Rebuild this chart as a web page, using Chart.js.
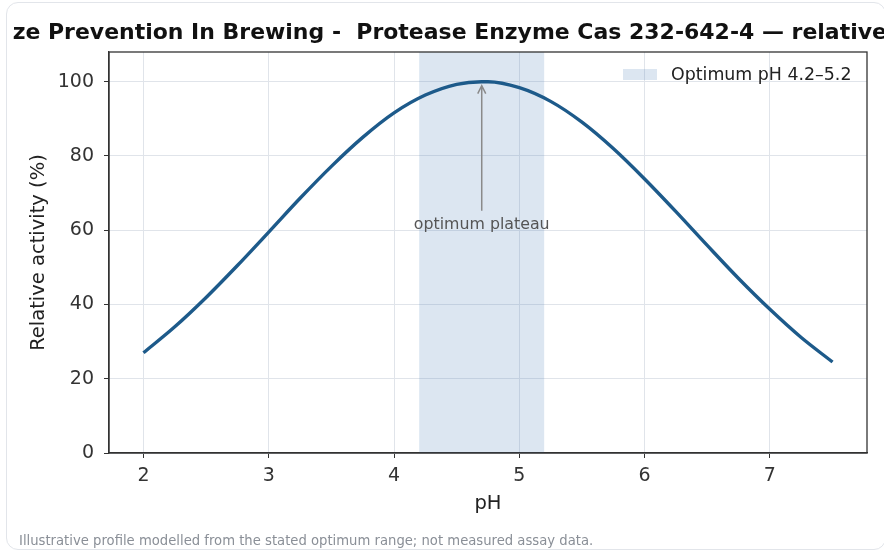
<!DOCTYPE html>
<html>
<head>
<meta charset="utf-8">
<script src="https://cdn.jsdelivr.net/npm/chart.js@4.4.0/dist/chart.umd.min.js"></script>
<style>
  html, body { margin: 0; padding: 0; background: #fff; }
  body { width: 884px; height: 554px; position: relative; overflow: hidden; font-family: "DejaVu Sans", sans-serif; }
  #card { position: absolute; left: 6px; top: 2px; width: 880px; height: 548px; border: 1px solid #e2e5ea; border-radius: 12px; box-sizing: border-box; }
  #chartBox { position: absolute; left: 0; top: 0; width: 884px; height: 554px; }
  #note { position: absolute; left: 19px; top: 533px; font-size: 13.2px; color: #8a8f97; white-space: nowrap; }
</style>
</head>
<body>
<div id="card"></div>
<div id="chartBox"><canvas id="activityChart" width="884" height="554"></canvas></div>
<div id="note">Illustrative profile modelled from the stated optimum range; not measured assay data.</div>
<script>
// values
let phValues = [2.0, 2.25, 2.5, 2.75, 3.0, 3.25, 3.5, 3.75, 4.0, 4.25, 4.5, 4.7, 4.75, 5.0, 5.25, 5.5, 5.75, 6.0, 6.25, 6.5, 6.75, 7.0, 7.25, 7.5];
let activityValues = [27.0, 34.0, 41.9, 50.5, 59.5, 68.6, 77.2, 85.0, 91.6, 96.4, 99.3, 100.0, 100.0, 98.4, 94.7, 89.1, 82.0, 73.8, 65.0, 55.9, 47.0, 38.7, 31.1, 24.5];
let optimumRange = [4.2, 5.2];
let xTicks = [2, 3, 4, 5, 6, 7];
let yTicks = [0, 20, 40, 60, 80, 100];
let peakPh = 4.7;
let peakActivity = 100;
let labelActivity = 61.5;

let titleHead = "Haze ";
let titleText = "Haze Prevention In Brewing -  Protease Enzyme Cas 232-642-4 \u2014 relative activity";
let titleMid = "Prevention In Brewing -  Protease Enzyme Cas 232-642-4 \u2014 ";
let legendText = "Optimum pH 4.2\u20135.2";
let bandColor = "rgba(70,120,180,0.19)";

let decorPlugin = {
    id: 'decor',
    afterDraw: function (chart) {
        let ctx = chart.ctx;
        let area = chart.chartArea;
        let xs = chart.scales.x;
        let ys = chart.scales.y;
        ctx.save();

        // frame
        ctx.strokeStyle = "#333";
        ctx.lineWidth = 1.3;
        ctx.strokeRect(area.left, area.top, area.right - area.left, area.bottom - area.top);

        // title, sized so "Prevention" starts at 48 and "relative" at 792 like the reference;
        // it runs past the card, which cuts it off
        ctx.save();
        ctx.beginPath();
        ctx.rect(12, 0, 872, 60);
        ctx.clip();
        ctx.font = "bold 22px 'DejaVu Sans'";
        let size = 22 * 744 / ctx.measureText(titleMid).width;
        ctx.font = "bold " + size + "px 'DejaVu Sans'";
        let startX = 48 - ctx.measureText(titleHead).width;
        ctx.fillStyle = "#111";
        ctx.textAlign = "left";
        ctx.textBaseline = "middle";
        ctx.fillText(titleText, startX, 33);
        ctx.restore();

        // legend
        ctx.fillStyle = bandColor;
        ctx.fillRect(623, 69, 34, 11);
        ctx.fillStyle = "#222";
        ctx.font = "17.4px 'DejaVu Sans'";
        ctx.textAlign = "left";
        ctx.textBaseline = "middle";
        ctx.fillText(legendText, 671, 75);

        // annotation arrow
        let ax = xs.getPixelForValue(peakPh);
        let tipY = ys.getPixelForValue(peakActivity) + 4;
        let textY = ys.getPixelForValue(labelActivity);
        ctx.strokeStyle = "#8a8a8a";
        ctx.lineWidth = 1.5;
        ctx.beginPath();
        ctx.moveTo(ax, textY - 14);
        ctx.lineTo(ax, tipY);
        ctx.moveTo(ax - 4, tipY + 8);
        ctx.lineTo(ax, tipY);
        ctx.lineTo(ax + 4, tipY + 8);
        ctx.stroke();
        ctx.fillStyle = "#555";
        ctx.font = "15.8px 'DejaVu Sans'";
        ctx.textAlign = "center";
        ctx.fillText("optimum plateau", ax, textY);
        ctx.restore();
    }
};

let curveData = phValues.map(function (p, i) { return { x: p, y: activityValues[i] }; });

new Chart(document.getElementById("activityChart"), {
    type: 'line',
    data: {
        datasets: [
            {
                label: legendText,
                data: [{ x: optimumRange[0], y: 108 }, { x: optimumRange[1], y: 108 }],
                backgroundColor: bandColor,
                borderWidth: 0,
                pointRadius: 0,
                fill: 'origin',
                order: 2
            },
            {
                label: "Relative activity",
                data: curveData,
                borderColor: "#1d5a8a",
                borderWidth: 3.4,
                pointRadius: 0,
                tension: 0.4,
                cubicInterpolationMode: 'monotone',
                fill: false,
                order: 1
            }
        ]
    },
    options: {
        responsive: false,
        animation: false,
        layout: { padding: { left: 0, top: 52, right: 17, bottom: 0 } },
        plugins: {
            legend: { display: false },
            title: { display: false },
            tooltip: { enabled: false }
        },
        scales: {
            x: {
                type: 'linear',
                min: 1.725,
                max: 7.775,
                afterFit: function (scale) { scale.height = 101; },
                afterBuildTicks: function (scale) {
                    scale.ticks = xTicks.map(function (v) { return { value: v }; });
                },
                ticks: {
                    color: "#333",
                    font: { family: "DejaVu Sans", size: 19 },
                    padding: 7,
                    maxRotation: 0
                },
                grid: { color: "#e0e4ea", tickColor: "#333", tickLength: 5, lineWidth: 1 },
                border: { color: "#333", width: 1.3 },
                title: {
                    display: true,
                    text: "pH",
                    color: "#222",
                    font: { family: "DejaVu Sans", size: 19.5 },
                    padding: { top: 0, bottom: 38 }
                }
            },
            y: {
                min: 0,
                max: 108,
                afterFit: function (scale) { scale.width = 109; },
                afterBuildTicks: function (scale) {
                    scale.ticks = yTicks.map(function (v) { return { value: v }; });
                },
                ticks: {
                    color: "#333",
                    font: { family: "DejaVu Sans", size: 19 },
                    padding: 10
                },
                grid: { color: "#e0e4ea", tickColor: "#333", tickLength: 5, lineWidth: 1 },
                border: { color: "#333", width: 1.3 },
                title: {
                    display: true,
                    text: "Relative activity (%)",
                    color: "#222",
                    font: { family: "DejaVu Sans", size: 19.5 },
                    padding: { top: 27, bottom: 0 }
                }
            }
        }
    },
    plugins: [decorPlugin]
});
</script>
</body>
</html>
